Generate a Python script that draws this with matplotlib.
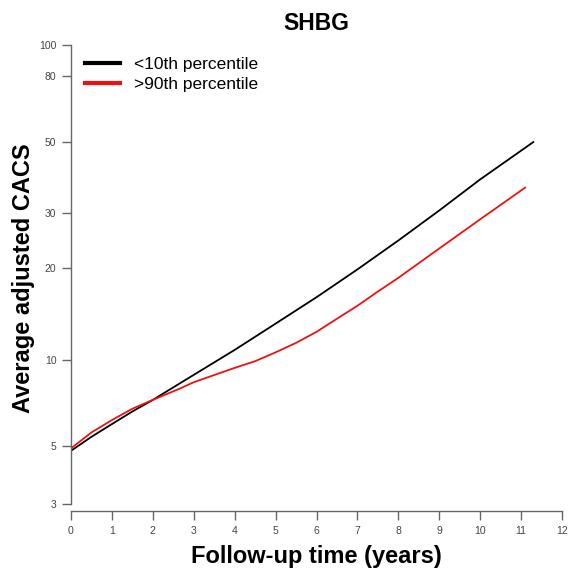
import numpy as np
import matplotlib
matplotlib.use('Agg')
import matplotlib.pyplot as plt

plt.rcParams['font.family'] = ['Liberation Sans', 'DejaVu Sans']

# follow-up years and average adjusted CACS
years_low = [0, 0.5, 1, 1.5, 2, 3, 4, 5, 6, 7, 8, 9, 10, 11.3]
cacs_low = [4.8, 5.4, 6.0, 6.65, 7.3, 8.9, 10.8, 13.2, 16.1, 19.8, 24.5, 30.5, 38.2, 50.0]

years_high = [0, 0.5, 1, 1.5, 2, 2.67, 3, 4, 4.5, 5, 5.5, 6, 6.5, 7, 7.5, 8, 9, 10, 11.1]
cacs_high = [4.9, 5.6, 6.2, 6.8, 7.3, 8.0, 8.4, 9.4, 9.9, 10.6, 11.4, 12.4, 13.7, 15.1, 16.8, 18.6, 23.1, 28.6, 36.0]

labels = ['<10th percentile', '>90th percentile']
yticks = [3, 5, 10, 20, 30, 50, 80, 100]
xticks = list(range(0, 13))

fig = plt.figure(figsize=(5.81, 5.72), dpi=100)
ax = fig.add_axes([71/581, 61/572, 491/581, 466/572])

fwd = lambda y: np.log10(np.asarray(y) + 1)
inv = lambda v: 10**np.asarray(v) - 1
ax.set_yscale('function', functions=(fwd, inv))

ax.plot(years_low, cacs_low, color='black', lw=1.3, label=labels[0])
ax.plot(years_high, cacs_high, color='#ee1111', lw=1.3, label=labels[1])

ax.set_xlim(0, 12)
ax.set_ylim(2.796, 100)
ax.set_xticks(xticks)
ax.set_yticks(yticks)
ax.set_yticklabels([str(t) for t in yticks])
ax.minorticks_off()

for s in ['top', 'right']:
    ax.spines[s].set_visible(False)
for s in ['left', 'bottom']:
    ax.spines[s].set_color('#666666')
    ax.spines[s].set_linewidth(1.0)
ax.spines['left'].set_bounds(3, 100)
ax.spines['bottom'].set_bounds(0, 12)

ax.tick_params(axis='both', direction='out', length=6.5, width=1.0, color='#666666',
               labelcolor='#444444', labelsize=7.5, pad=4)

ax.set_title('SHBG', fontsize=16.5, fontweight='bold', pad=11)
ax.set_xlabel('Follow-up time (years)', fontsize=17, fontweight='bold')
ax.set_ylabel('Average adjusted CACS', fontsize=17, fontweight='bold')
ax.xaxis.set_label_coords(0.5, -0.073)
ax.yaxis.set_label_coords(-0.073, 0.5)

leg = ax.legend(loc='upper left', bbox_to_anchor=(0.0285, 0.974), frameon=False,
                fontsize=12.5, handlelength=2.0, handletextpad=0.8,
                labelspacing=0.25, borderpad=0, borderaxespad=0)
for h in leg.legend_handles:
    h.set_linewidth(3)

fig.savefig('out.png', dpi=100)
